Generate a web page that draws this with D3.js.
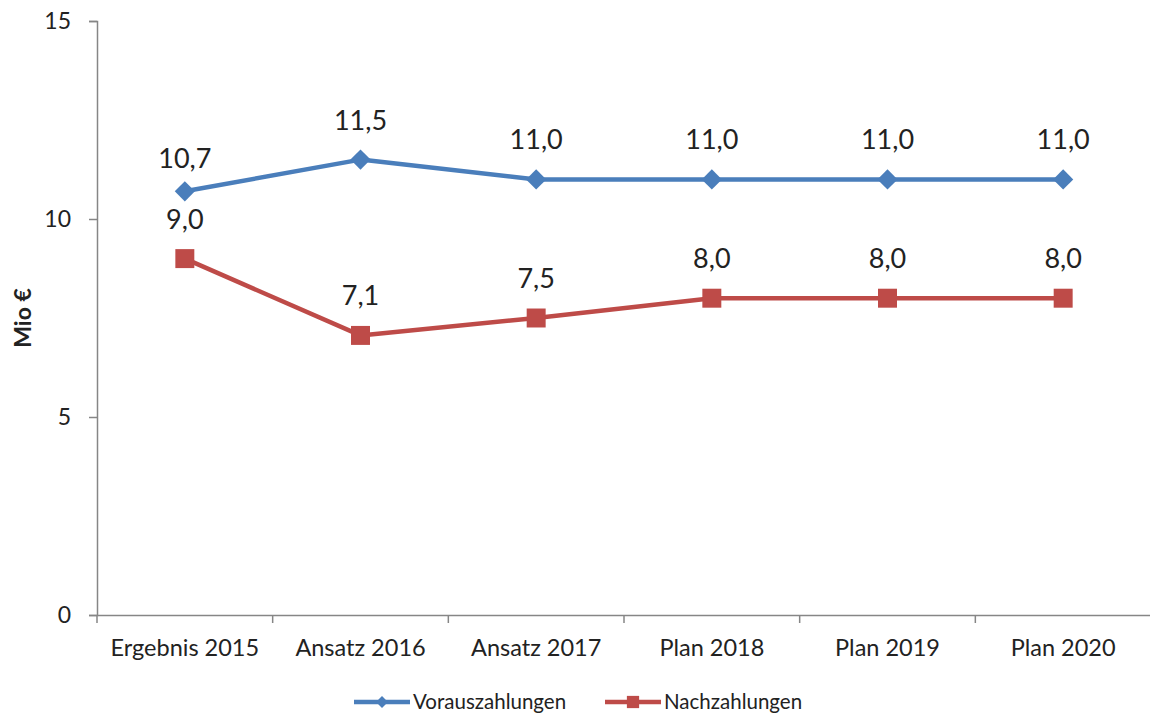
<!DOCTYPE html>
<html>
<head>
<meta charset="utf-8">
<script src="https://cdn.jsdelivr.net/npm/d3@7"></script>
<style>
  body { margin: 0; background: #fff; }
  text { font-family: Lato, "Open Sans", sans-serif; fill: #222; }
</style>
</head>
<body>
<svg id="chart" width="1150" height="717"></svg>
<script>
var categories = ["Ergebnis 2015", "Ansatz 2016", "Ansatz 2017", "Plan 2018", "Plan 2019", "Plan 2020"];
var vorauszahlungen = [10.7, 11.5, 11.0, 11.0, 11.0, 11.0];
var nachzahlungen = [9.0, 7.06, 7.5, 8.0, 8.0, 8.0];
var yTicks = [0, 5, 10, 15];
var seriesNames = ["Vorauszahlungen", "Nachzahlungen"];
var seriesColors = ["#4A7EBB", "#BE4B48"];

var margin = {top: 21, right: 0, bottom: 102, left: 97},
    width = 1151 - margin.left,
    height = 717 - margin.top - margin.bottom;

var svg = d3.select("#chart")
    .append("g")
    .attr("transform", "translate(" + margin.left + "," + margin.top + ")");

var x = d3.scaleBand().domain(categories).range([0, width]);
var y = d3.scaleLinear().domain([0, 15]).range([height, 0]);

// y axis
var axisY = svg.append("g").call(d3.axisLeft(y).tickValues(yTicks).tickSize(8).tickPadding(18));
axisY.select(".domain").attr("stroke", "#868686").attr("stroke-width", 1.5);
axisY.selectAll(".tick line").attr("stroke", "#868686").attr("stroke-width", 1.5);
axisY.selectAll(".tick text").style("font-size", "23px").attr("fill", "#222");

// x axis
var axisX = svg.append("g")
    .attr("transform", "translate(0," + height + ")")
    .call(d3.axisBottom(x).tickSize(0).tickPadding(24));
axisX.select(".domain").attr("stroke", "#868686").attr("stroke-width", 1.5);
axisX.selectAll(".tick text").style("font-size", "23.5px").attr("fill", "#222");
// tick marks between categories
var bounds = categories.map(function (c) { return x(c); }).concat([width]);
axisX.selectAll(".sep").data(bounds).enter().append("line")
    .attr("class", "sep")
    .attr("x1", function (d) { return d; }).attr("x2", function (d) { return d; })
    .attr("y1", 0).attr("y2", 8)
    .attr("stroke", "#868686").attr("stroke-width", 1.5);

// y label
svg.append("text")
    .attr("transform", "translate(" + (-66) + "," + (height / 2) + ") rotate(-90)")
    .attr("text-anchor", "middle")
    .style("font-size", "23px")
    .style("font-weight", "bold")
    .text("Mio €");

var line = d3.line()
    .x(function (d, i) { return x(categories[i]) + x.bandwidth() / 2; })
    .y(function (d) { return y(d); });

var fmt = function (v) { return d3.format(".1f")(v).replace(".", ","); };

[vorauszahlungen, nachzahlungen].forEach(function (vals, s) {
    var g = svg.append("g");
    g.append("path")
        .datum(vals)
        .attr("fill", "none")
        .attr("stroke", seriesColors[s])
        .attr("stroke-width", 4.5)
        .attr("stroke-linejoin", "round")
        .attr("d", line);
    var sym = s == 0 ? d3.symbol().type(d3.symbolDiamond2).size(260)
                     : d3.symbol().type(d3.symbolSquare).size(360);
    g.selectAll(".pt").data(vals).enter().append("path")
        .attr("class", "pt")
        .attr("transform", function (d, i) {
            return "translate(" + (x(categories[i]) + x.bandwidth() / 2) + "," + y(d) + ")";
        })
        .attr("d", sym)
        .attr("fill", seriesColors[s]);
    g.selectAll(".lbl").data(vals).enter().append("text")
        .attr("class", "lbl")
        .attr("x", function (d, i) { return x(categories[i]) + x.bandwidth() / 2; })
        .attr("y", function (d, i) {
            // first blue label sits a bit lower (moved down to clear the red one)
            return y(d) - (s == 0 && i == 0 ? 23 : 30);
        })
        .attr("text-anchor", "middle")
        .style("font-size", "27px")
        .text(fmt);
});

// legend
var legend = d3.select("#chart").append("g").attr("transform", "translate(0,702)");
var legendX = [354, 605];
seriesNames.forEach(function (name, s) {
    var lg = legend.append("g").attr("transform", "translate(" + legendX[s] + ",0)");
    lg.append("line").attr("x1", 0).attr("x2", 56).attr("y1", 0).attr("y2", 0)
        .attr("stroke", seriesColors[s]).attr("stroke-width", 4.5);
    var sym = s == 0 ? d3.symbol().type(d3.symbolDiamond2).size(90)
                     : d3.symbol().type(d3.symbolSquare).size(150);
    lg.append("path").attr("transform", "translate(28,0)").attr("d", sym).attr("fill", seriesColors[s]);
    lg.append("text").attr("x", 59).attr("y", 7).style("font-size", "20.5px").text(name);
});
</script>
</body>
</html>
